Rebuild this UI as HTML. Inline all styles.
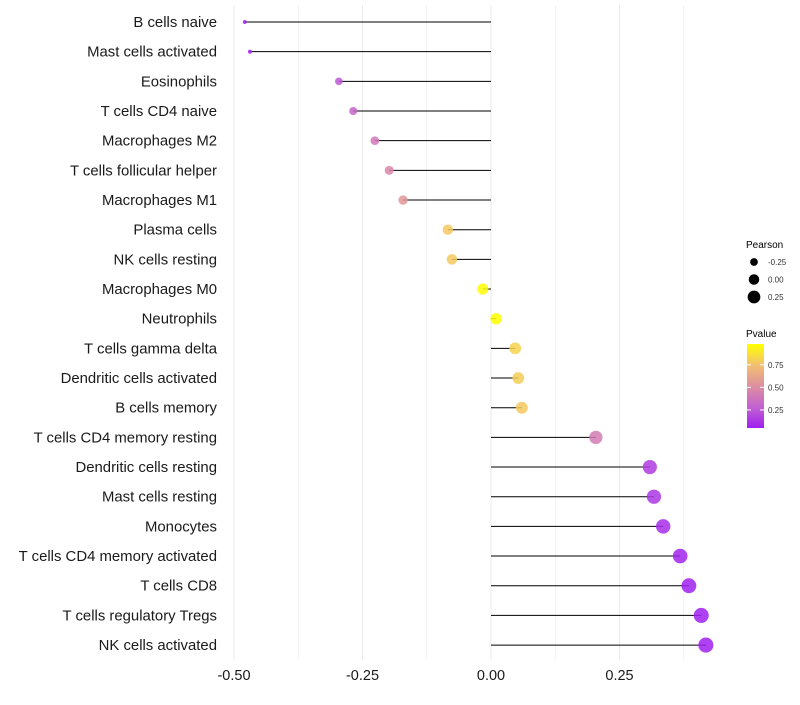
<!DOCTYPE html>
<html><head><meta charset="utf-8"><style>
body{margin:0;background:#fff}
svg text{font-family:"Liberation Sans",sans-serif}
</style></head><body>
<svg id="chart" width="800" height="700">
<defs><linearGradient id="pg" x1="0" y1="1" x2="0" y2="0">
<stop offset="0" stop-color="#a020f0"/><stop offset="0.25" stop-color="#c262d0"/><stop offset="0.5" stop-color="#de8fa0"/><stop offset="0.75" stop-color="#f2c070"/><stop offset="1" stop-color="#ffff00"/></linearGradient></defs>
<g id="grid"></g>
<g id="marks"></g>
<g id="ylabels"></g>
<g id="xlabels"></g>
<g>
<text x="746" y="248" font-size="10">Pearson</text>
<g id="sizeLeg"></g>
</g>
<g>
<text x="746" y="337" font-size="10">Pvalue</text>
<rect x="747" y="344" width="17" height="84" fill="url(#pg)"/>
<g id="colLeg"></g>
</g>
</svg>
<script>
const categories=["B cells naive","Mast cells activated","Eosinophils","T cells CD4 naive","Macrophages M2","T cells follicular helper","Macrophages M1","Plasma cells","NK cells resting","Macrophages M0","Neutrophils","T cells gamma delta","Dendritic cells activated","B cells memory","T cells CD4 memory resting","Dendritic cells resting","Mast cells resting","Monocytes","T cells CD4 memory activated","T cells CD8","T cells regulatory  Tregs ","NK cells activated"];
const pearson=[-0.479,-0.469,-0.296,-0.268,-0.226,-0.198,-0.171,-0.084,-0.076,-0.016,0.010,0.047,0.053,0.060,0.204,0.309,0.317,0.335,0.368,0.385,0.409,0.418];
const pvalue=[0.02,0.03,0.25,0.3,0.4,0.47,0.55,0.78,0.78,0.97,0.98,0.82,0.8,0.78,0.42,0.15,0.13,0.1,0.06,0.05,0.03,0.03];
const xTicks=[-0.5,-0.25,0,0.25];
const xTickLabels=["-0.50","-0.25","0.00","0.25"];
const sizeBreaks=[-0.25,0,0.25];
const sizeLabels=["-0.25","0.00","0.25"];
const colBreaks=[0.75,0.5,0.25];
const colLabels=["0.75","0.50","0.25"];
const NS="http://www.w3.org/2000/svg";
const X=v=>491+v*514;
const Y=i=>22+i*29.67;
const R=v=>Math.sqrt((10+(v+0.48)/0.9*144)/Math.PI)*1.08;
const stops=[[0,[160,32,240]],[0.25,[194,98,208]],[0.5,[222,143,160]],[0.75,[242,192,112]],[1,[255,255,0]]];
function col(p){let t=Math.max(0,Math.min(1,(p-0.05)/0.93));for(let k=1;k<stops.length;k++){if(t<=stops[k][0]){const a=stops[k-1],b=stops[k],f=(t-a[0])/(b[0]-a[0]);return "rgb("+a[1].map((c,j)=>Math.round(c+(b[1][j]-c)*f)).join(",")+")";}}return "rgb(255,255,0)";}
function mk(tag,at,parent){const e=document.createElementNS(NS,tag);for(const k in at)e.setAttribute(k,at[k]);parent.appendChild(e);return e;}
const grid=document.getElementById('grid');
[-0.5,-0.375,-0.25,-0.125,0,0.125,0.25,0.375].forEach(v=>{const l=mk('line',{x1:X(v),x2:X(v),y1:5,y2:660,stroke:'#ebebeb','stroke-width':Number.isInteger(v*4)?1.1:0.6},grid);

});
const marks=document.getElementById('marks'),yl=document.getElementById('ylabels'),xl=document.getElementById('xlabels');
categories.forEach((c,i)=>{
const s=mk('line',{x1:X(0),x2:X(pearson[i]),y1:Y(i),y2:Y(i),stroke:'#000','stroke-width':1},marks);


const d=mk('circle',{cx:X(pearson[i]),cy:Y(i),r:R(pearson[i]),fill:col(pvalue[i]),'fill-opacity':0.85},marks);


const t=mk('text',{x:217,y:Y(i)+5,'font-size':14.9,'text-anchor':'end',fill:'#1a1a1a'},yl);t.textContent=c;


});
xTicks.forEach((v,i)=>{const t=mk('text',{x:X(v),y:680,'font-size':14.5,'text-anchor':'middle',fill:'#1a1a1a'},xl);t.textContent=xTickLabels[i];

});
const sl=document.getElementById('sizeLeg');
sizeBreaks.forEach((v,i)=>{const y=262+i*17.5;
const c=mk('circle',{cx:754,cy:y,r:R(v)/1.08,fill:'#000'},sl);


const t=mk('text',{x:768,y:y+3,'font-size':8,fill:'#333'},sl);t.textContent=sizeLabels[i];

});
const cl=document.getElementById('colLeg');
colBreaks.forEach((v,i)=>{const y=428-(v-0.05)/0.93*84;
mk('line',{x1:747,x2:751,y1:y,y2:y,stroke:'#fff'},cl);mk('line',{x1:760,x2:764,y1:y,y2:y,stroke:'#fff'},cl);
const t=mk('text',{x:768,y:y+3,'font-size':8,fill:'#333'},cl);t.textContent=colLabels[i];

});
</script>
</body></html>
